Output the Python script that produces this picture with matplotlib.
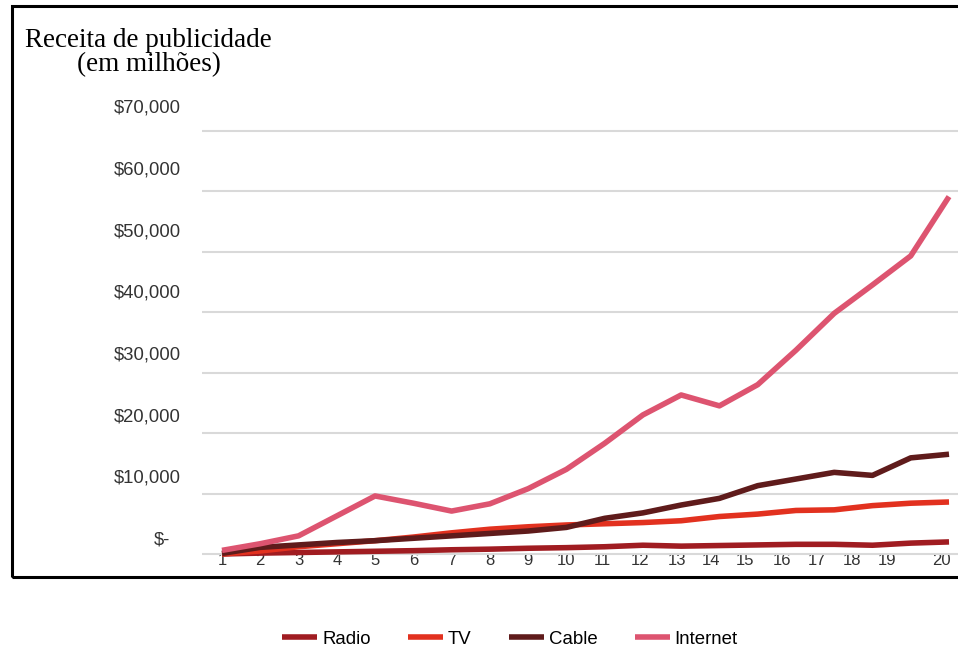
import matplotlib.pyplot as plt
from matplotlib.patches import Rectangle

plt.rcParams['font.family'] = ['Liberation Sans', 'DejaVu Sans']

# receita anual por meio (em milhões de dólares)
years = list(range(1, 21))
radio = [0, 150, 250, 350, 450, 550, 700, 800, 950, 1050,
         1200, 1450, 1300, 1400, 1500, 1600, 1600, 1450, 1800, 2000]
tv = [0, 500, 1200, 1700, 2200, 2800, 3500, 4100, 4500, 4800,
      5000, 5200, 5500, 6200, 6600, 7200, 7300, 8000, 8400, 8600]
cable = [100, 1100, 1500, 1900, 2200, 2600, 3000, 3400, 3800, 4400,
         5900, 6800, 8100, 9200, 11300, 12400, 13500, 13000, 15900, 16500]
internet = [600, 1700, 3000, 6300, 9600, 8400, 7100, 8300, 10800, 14000,
            18300, 23000, 26300, 24500, 28000, 33700, 39800, 44500, 49300, 59100]

series_names = ['Radio', 'TV', 'Cable', 'Internet']
series_colors = ['#a01c21', '#e2311f', '#5f1b1b', '#dd5470']

y_ticks = [0, 10000, 20000, 30000, 40000, 50000, 60000, 70000]
y_labels = ['$-', '$10,000', '$20,000', '$30,000', '$40,000', '$50,000', '$60,000', '$70,000']
x_labels = [str(y) for y in years]
# where the category labels sit along the axis
x_label_pos = [1, 2, 3, 4, 5, 6, 7, 8, 9, 10,
               10.94, 11.93, 12.88, 13.78, 14.67, 15.63, 16.54, 17.46, 18.37, 19.81]

fig = plt.figure(figsize=(9.58, 6.48), dpi=100)
ax = fig.add_axes([202 / 958, 88 / 648, 756 / 958, 440 / 648])

for vals, name, col in zip([radio, tv, cable, internet], series_names, series_colors):
    ax.plot(years, vals, color=col, lw=4.0, label=name,
            solid_joinstyle='round', solid_capstyle='butt', clip_on=False)

ax.set_xlim(0.477, 20.235)
ax.set_ylim(-992, 71771)
ax.set_yticks(y_ticks)
ax.set_yticklabels([])
ax.yaxis.grid(True, color='#d9d9d9', lw=1.5)
ax.set_axisbelow(True)
ax.tick_params(axis='y', length=0)
for s in ax.spines.values():
    s.set_visible(False)

# y labels sit a little above their gridlines
for i, (v, lab) in enumerate(zip(y_ticks, y_labels)):
    dx = -32 if v == 0 else -21
    ax.annotate(lab, xy=(0, v), xycoords=('axes fraction', 'data'),
                xytext=(dx, 14 + 1.2 * i), textcoords='offset pixels',
                ha='right', va='center', fontsize=13.3, color='#333333')

ax.set_xticks(x_label_pos)
ax.set_xticklabels(x_labels, fontsize=12, color='#333333')
ax.tick_params(axis='x', length=0, pad=-5)

fig.text(148.5 / 958, 1 - 52.5 / 648, 'Receita de publicidade\n(em milhões)',
         ha='center', va='center', multialignment='center', linespacing=0.92,
         fontsize=19.5, family='Liberation Serif', color='black')

# outer frame
fig.add_artist(Rectangle((11.5 / 958, 1 - 576.5 / 648), 1.2, 570.5 / 648,
                         transform=fig.transFigure, fill=False, lw=2.2,
                         edgecolor='black', clip_on=False))

fig.legend(loc='center', bbox_to_anchor=(510 / 958, 1 - 639 / 648), ncol=4,
           frameon=False, fontsize=13.4, handlelength=1.88, handletextpad=0.27,
           columnspacing=2.0)

fig.savefig('out.png', dpi=100)
